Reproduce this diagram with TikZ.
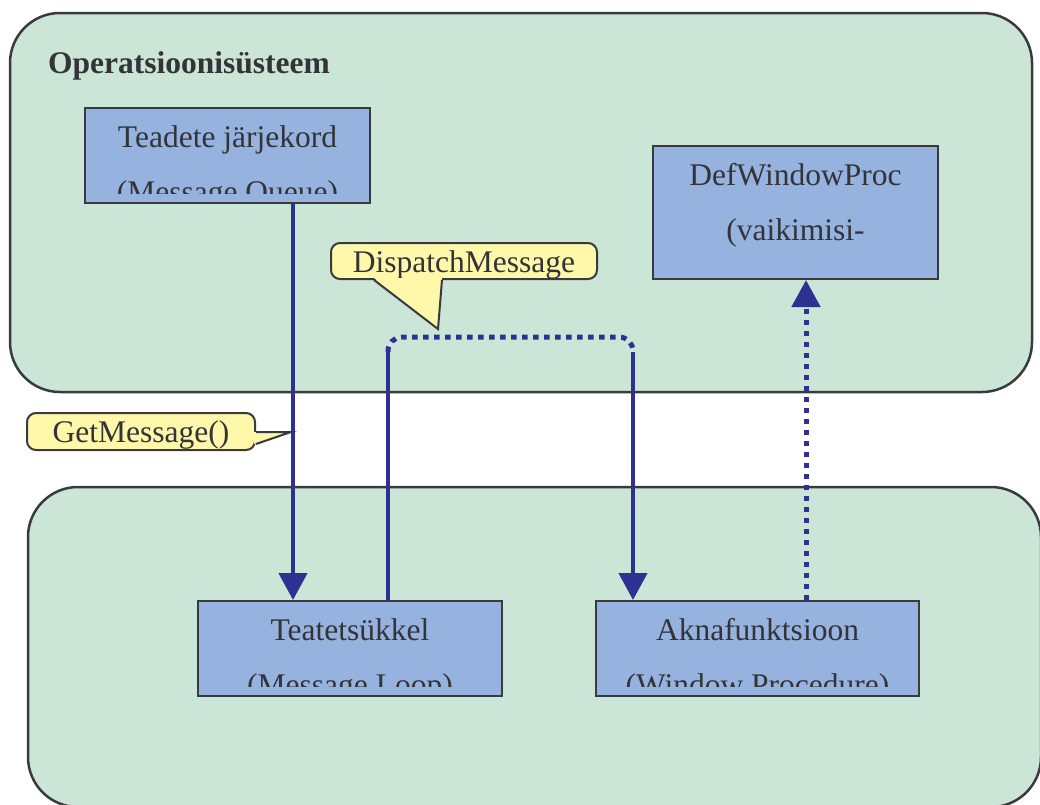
\documentclass[tikz,border=0pt]{standalone}
\usepackage{fontspec}
\setmainfont{Liberation Serif}
\usetikzlibrary{arrows.meta,calc}
\definecolor{regionfill}{RGB}{203,230,214}
\definecolor{boxfill}{RGB}{149,179,222}
\definecolor{notefill}{RGB}{255,247,170}
\definecolor{edgegray}{RGB}{58,58,62}
\definecolor{inktext}{RGB}{51,51,56}
\definecolor{flowblue}{RGB}{46,49,146}

% two text lines in a process box, cut off a little above its lower edge
\newcommand\proclines[3]{%
  \begin{scope}
    \clip (#1.north west) rectangle ([yshift=11pt]#1.south east);
    \node[boxtext] (#1-a) at ([yshift=-40.5pt]#1.north) {#2};
    \node[boxtext] (#1-b) at ([yshift=-95pt]#1.north) {#3};
  \end{scope}}

\begin{document}
\begin{tikzpicture}[x=1pt,y=-1pt,
  region/.style={draw=edgegray, line width=2.5pt, fill=regionfill,
    rounded corners=50pt, inner sep=0pt},
  procbox/.style={draw=edgegray, line width=2pt, fill=boxfill, inner sep=0pt},
  note/.style={draw=edgegray, line width=2pt, fill=notefill, rounded corners=9pt,
    inner sep=0pt, text=inktext, font=\fontsize{31.5}{36}\selectfont,
    text height=22pt, text depth=0pt},
  boxtext/.style={anchor=base, text=inktext, font=\fontsize{31.5}{36}\selectfont,
    inner sep=0pt},
  flow/.style={draw=flowblue, line width=4.5pt},
  dotflow/.style={draw=flowblue, line width=5pt, dash pattern=on 5.5pt off 5.5pt},
  flowtip/.style={-{Triangle[length=27pt,width=28pt]}},
  pointer/.style={draw=edgegray, line width=2pt, line join=miter}
]
\useasboundingbox (0,0) rectangle (1040,804);
\clip (0,0) rectangle (1040,804);
\fill[white] (0,0) rectangle (1040,804);

% the two areas
\node[region, minimum width=1022pt, minimum height=379pt] (os) at (521,202.5) {};
\node[region, minimum width=1013pt, minimum height=320pt] (app) at (534.5,647) {};
\node[anchor=base west, inner sep=0pt, text=inktext,
  font=\fontsize{31.5}{36}\selectfont\bfseries] (ostitle) at (48,73) {Operatsioonisüsteem};

% process boxes
\node[procbox, minimum width=285pt, minimum height=95pt]  (queue) at (227.5,155.5) {};
\node[procbox, minimum width=285pt, minimum height=133pt] (def)   at (795.5,212.5) {};
\node[procbox, minimum width=304pt, minimum height=95pt]  (loop)  at (350,648.5) {};
\node[procbox, minimum width=323pt, minimum height=95pt]  (wproc) at (757.5,648.5) {};
\proclines{queue}{Teadete järjekord}{(Message Queue)}
\proclines{def}{DefWindowProc}{(vaikimisi-}
\proclines{loop}{Teatetsükkel}{(Message Loop)}
\proclines{wproc}{Aknafunktsioon}{(Window Procedure)}

% connectors
\coordinate (getx) at (293,0);
\coordinate (defx) at (806,0);
\coordinate (dl)  at (388,352);
\coordinate (dtl) at (388,337);
\coordinate (dtr) at (633,337);
\coordinate (dr)  at (633,352);

\draw[flow, flowtip] (queue.south -| getx) -- (loop.north -| getx);
\draw[flow] (loop.north -| dl) -- (dl);
\draw[dotflow, rounded corners=14pt] (dl) -- (dtl) -- (dtr) -- (dr);
\draw[flow, flowtip] (dr) -- (wproc.north -| dr);
\draw[dotflow, flowtip] (wproc.north -| defx) -- (def.south -| defx);

% callouts
\node[note, minimum width=266pt, minimum height=36pt] (dispatch) at (464,261) {DispatchMessage};
\coordinate (dtip) at (438,329);
\fill[notefill] ($(dispatch.south west)+(44,-2)$) -- (dtip) -- ($(dispatch.south west)+(112,-2)$) -- cycle;
\draw[pointer] ($(dispatch.south west)+(44,0)$) -- (dtip) -- ($(dispatch.south west)+(112,0)$);

\node[note, minimum width=228pt, minimum height=37pt] (getmsg) at (141,431.5) {GetMessage()};
\coordinate (gtip) at (291,432);
\fill[notefill] ($(getmsg.north east)+(-2,20)$) -- (gtip) -- ($(getmsg.north east)+(-2,32)$) -- cycle;
\draw[pointer] ($(getmsg.north east)+(0,20)$) -- (gtip) -- ($(getmsg.north east)+(0,32)$);
\end{tikzpicture}
\end{document}
